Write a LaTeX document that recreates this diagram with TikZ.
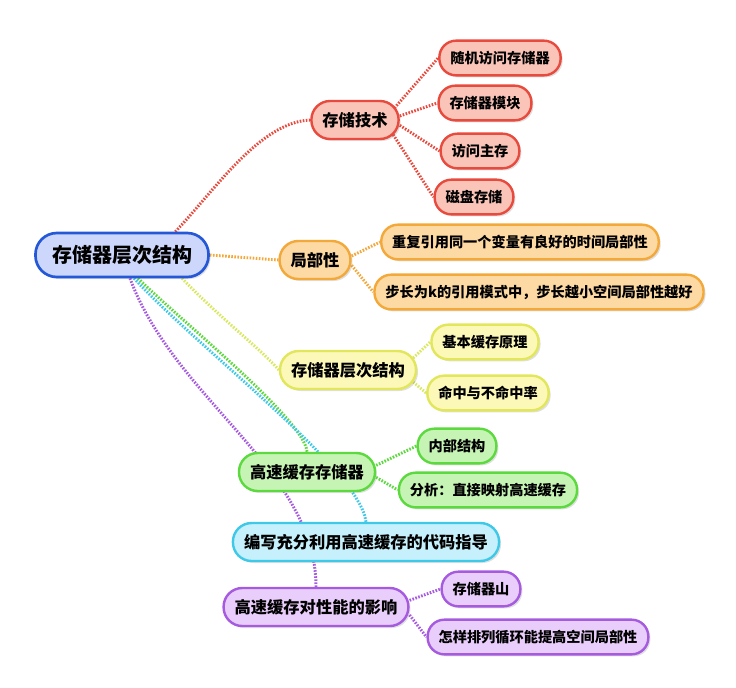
\documentclass[tikz,border=0pt]{standalone}
\usepackage{fontspec}
\setmainfont{Noto Sans CJK SC}
\usetikzlibrary{shadows,backgrounds}
\definecolor{rootfill}{HTML}{CCD7FB}\definecolor{rootdraw}{HTML}{2458D6}
\definecolor{redfill}{HTML}{FAC4B8}\definecolor{reddraw}{HTML}{E84A3D}
\definecolor{orafill}{HTML}{FDD9A3}\definecolor{oradraw}{HTML}{F3A83A}
\definecolor{yelfill}{HTML}{FBF8B8}\definecolor{yeldraw}{HTML}{E2E65A}\definecolor{yelline}{HTML}{D9E85E}
\definecolor{grnfill}{HTML}{C6F4B4}\definecolor{grndraw}{HTML}{5CD93E}
\definecolor{cyafill}{HTML}{C6F0FB}\definecolor{cyadraw}{HTML}{3EC9E8}
\definecolor{purfill}{HTML}{E9CDFA}\definecolor{purdraw}{HTML}{A65AE0}
\tikzset{
  base/.style={draw, inner ysep=0pt, align=center,
    drop shadow={shadow xshift=1.5pt,shadow yshift=-1.5pt,opacity=0.25}},
  rootbox/.style={base, minimum height=33pt, inner xsep=12.4pt, rounded corners=16pt,
    line width=2pt, font=\fontsize{15}{18}\selectfont\bfseries, fill=rootfill, draw=rootdraw},
  lvone/.style={base, minimum height=28.5pt, inner xsep=8.3pt, rounded corners=14pt,
    line width=1.8pt, font=\fontsize{12.2}{14}\selectfont\bfseries},
  lvtwo/.style={base, minimum height=26pt, inner xsep=8.2pt, rounded corners=12.5pt,
    line width=1.8pt, font=\fontsize{10.65}{13}\selectfont\bfseries},
  red/.style={fill=redfill, draw=reddraw},
  ora/.style={fill=orafill, draw=oradraw},
  yel/.style={fill=yelfill, draw=yeldraw},
  grn/.style={fill=grnfill, draw=grndraw},
  cya/.style={fill=cyafill, draw=cyadraw},
  pur/.style={fill=purfill, draw=purdraw},
  conn/.style={line width=2.2pt, dash pattern=on 1.2pt off 1.1pt},
}
\begin{document}
\begin{tikzpicture}[x=0.75pt,y=-0.75pt]
\useasboundingbox (0,0) rectangle (736,687);
% root
\node[rootbox] (root) at (122,255) {存储器层次结构};
% red branch
\node[lvone,red] (A) at (355,120) {存储技术};
\node[lvtwo,red] (A1) at (500,58) {随机访问存储器};
\node[lvtwo,red] (A2) at (485,103) {存储器模块};
\node[lvtwo,red] (A3) at (480,151) {访问主存};
\node[lvtwo,red] (A4) at (474,197) {磁盘存储};
% orange branch
\node[lvone,ora] (B) at (315,260) {局部性};
\node[lvtwo,ora] (B1) at (520,242) {重复引用同一个变量有良好的时间局部性};
\node[lvtwo,ora] (B2) at (539,292) {步长为k的引用模式中，步长越小空间局部性越好};
% yellow branch
\node[lvone,yel] (C) at (348,370) {存储器层次结构};
\node[lvtwo,yel] (C1) at (485,342) {基本缓存原理};
\node[lvtwo,yel] (C2) at (488,393) {命中与不命中率};
% green branch
\node[lvone,grn] (D) at (307,472) {高速缓存存储器};
\node[lvtwo,grn] (D1) at (457,446) {内部结构};
\node[lvtwo,grn] (D2) at (488,490) {分析：直接映射高速缓存};
% cyan branch
\node[lvone,cya] (E) at (366,542) {编写充分利用高速缓存的代码指导};
% purple branch
\node[lvone,pur] (F) at (316,607) {高速缓存对性能的影响};
\node[lvtwo,pur] (F1) at (481,589) {存储器山};
\node[lvtwo,pur] (F2) at (538,637) {怎样排列循环能提高空间局部性};
\begin{scope}[on background layer]
  % root connectors
  \draw[conn,reddraw] ([xshift=40pt]root.north) .. controls (215,190) and (260,122) .. (A.west);
  \draw[conn,oradraw] (root.east) -- (B.west);
  \draw[conn,yelline] ([xshift=45pt]root.south) .. controls (220,318) and (262,350) .. (C.west);
  \draw[conn,grndraw] ([xshift=12pt]root.south) .. controls (180,320) and (305,420) .. (D.north);
  \draw[conn,cyadraw] ([xshift=9pt]root.south) .. controls (200,350) and (360,470) .. (E.north);
  \draw[conn,purdraw] ([xshift=6pt]root.south) .. controls (175,400) and (316,470) .. (F.north);
  % red children
  \draw[conn,reddraw] ([xshift=-4pt,yshift=9pt]A.east) -- (A1.west);
  \draw[conn,reddraw] ([yshift=3pt]A.east) -- (A2.west);
  \draw[conn,reddraw] ([yshift=-4pt]A.east) -- (A3.west);
  \draw[conn,reddraw] ([xshift=-5pt,yshift=-11pt]A.east) -- (A4.west);
  % orange children
  \draw[conn,oradraw] ([yshift=3pt]B.east) -- (B1.west);
  \draw[conn,oradraw] ([yshift=-4pt]B.east) -- (B2.west);
  % yellow children
  \draw[conn,yelline] ([xshift=-3pt,yshift=9pt]C.east) -- (C1.west);
  \draw[conn,yelline] ([xshift=-3pt,yshift=-9pt]C.east) -- (C2.west);
  % green children
  \draw[conn,grndraw] ([yshift=5pt]D.east) -- (D1.west);
  \draw[conn,grndraw] ([yshift=-4pt]D.east) -- (D2.west);
  % purple children
  \draw[conn,purdraw] ([yshift=5pt]F.east) -- (F1.west);
  \draw[conn,purdraw] ([yshift=-6pt]F.east) -- (F2.west);
\end{scope}
\end{tikzpicture}
\end{document}
